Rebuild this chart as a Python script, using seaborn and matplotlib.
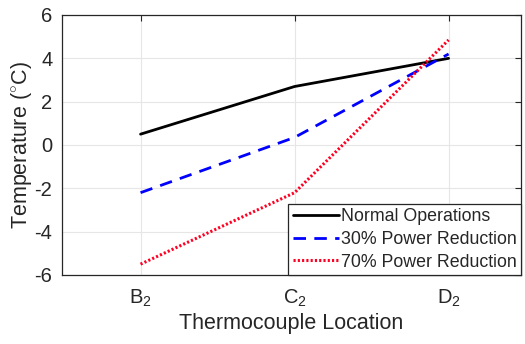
import matplotlib
matplotlib.use("Agg")
import matplotlib.pyplot as plt
import seaborn as sns
import pandas as pd

locations = ["B$_2$", "C$_2$", "D$_2$"]
normal = [0.5, 2.7, 4.0]
red30 = [-2.2, 0.35, 4.2]
red70 = [-5.5, -2.2, 4.85]
series_names = ["Normal Operations", "30% Power Reduction", "70% Power Reduction"]
yticks = [-6, -4, -2, 0, 2, 4, 6]

sns.set_theme(style="white")
plt.rcParams['font.family'] = ['Liberation Sans', 'DejaVu Sans']
plt.rcParams['mathtext.fontset'] = 'custom'
plt.rcParams['mathtext.rm'] = 'Liberation Sans'
plt.rcParams['mathtext.it'] = 'Liberation Sans:italic'

rows = []
for name, vals in zip(series_names, [normal, red30, red70]):
    for i, v in enumerate(vals):
        rows.append({"x": i, "y": v, "series": name})
df = pd.DataFrame(rows)

fig = plt.figure(figsize=(5.25, 3.44), dpi=100)
ax = fig.add_axes([62/525, 1-275/344, (521-62)/525, (275-15)/344])

styles = {"Normal Operations": dict(color="black", ls="-", lw=2.0),
          "30% Power Reduction": dict(color="#0000ff", ls=(0, (4.5, 3)), lw=2.0),
          "70% Power Reduction": dict(color="#ff0022", ls=(0, (0.7, 0.7)), lw=2.2)}
for name in series_names:
    sub = df[df.series == name]
    sns.lineplot(data=sub, x="x", y="y", ax=ax, label=name, **styles[name])

ax.set_xlim(-0.51, 2.47)
ax.set_ylim(-6, 6)
ax.set_xticks([0, 1, 2])
ax.set_xticklabels(locations)
ax.set_yticks(yticks)
ax.set_yticklabels([str(t) for t in yticks])
ax.grid(True, color="#e6e6e6", lw=0.8)
ax.tick_params(direction="in", length=4, top=True, right=True, labelsize=14.5,
               colors="#262626", width=0.8)
ax.tick_params(axis="x", pad=9)
ax.tick_params(axis="y", pad=7)
for s in ax.spines.values():
    s.set_color("#262626")
    s.set_linewidth(0.9)
ax.set_xlabel("Thermocouple Location", fontsize=15.5, color="#262626", labelpad=3)
ax.set_ylabel("Temperature ($^{\\circ}$C)", fontsize=15.5, color="#262626", labelpad=0)

leg = ax.legend(loc="lower right", fontsize=12.8, frameon=True, fancybox=False,
                borderpad=0.25, labelspacing=0.32, handlelength=2.6, handletextpad=0.1,
                borderaxespad=0.0)
leg.get_frame().set_edgecolor("#262626")
leg.get_frame().set_linewidth(0.9)
leg.get_frame().set_alpha(1)

fig.savefig("out.png", dpi=100)
